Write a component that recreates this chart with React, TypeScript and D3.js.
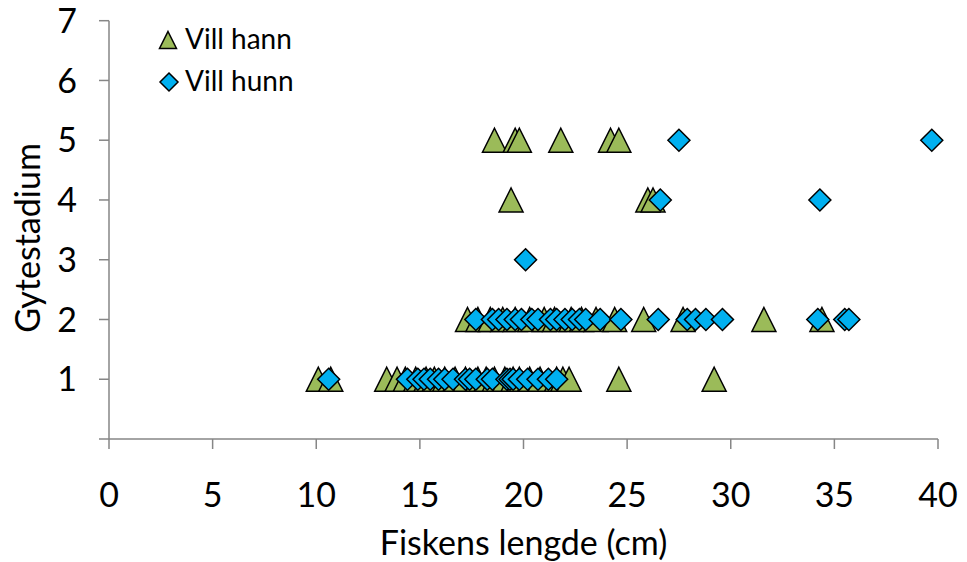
import React from "react";
import * as d3 from "d3";

// Fish length (cm) per spawning stage, wild males ("Vill hann")
const hannStage1 = [10.1, 10.7, 13.4, 13.9, 14.3, 14.8, 15.3, 15.7, 16.2, 16.7, 17.2, 17.8, 18.2, 18.6, 19.1, 19.5, 19.8, 20.3, 20.8, 21.6, 21.9, 22.2, 24.6, 29.2];
const hannStage2 = [17.3, 17.8, 18.4, 19.0, 19.6, 20.3, 21.0, 21.5, 22.3, 22.8, 23.5, 24.4, 25.8, 27.7, 31.6, 34.4];
const hannStage4 = [19.4, 26.0, 26.25];
const hannStage5 = [18.6, 19.6, 19.8, 21.8, 24.2, 24.6];

// Fish length (cm) per spawning stage, wild females ("Vill hunn")
const hunnStage1 = [10.6, 14.4, 14.9, 15.2, 15.5, 15.9, 16.2, 16.6, 17.2, 17.4, 17.7, 18.25, 18.5, 19.2, 19.35, 19.5, 19.8, 20.2, 20.7, 21.2, 21.6];
const hunnStage2 = [17.7, 18.5, 18.8, 19.2, 19.6, 19.9, 20.4, 20.7, 21.3, 21.6, 22.0, 22.35, 22.7, 23.0, 23.7, 24.7, 26.5, 27.9, 28.3, 28.8, 29.6, 34.2, 35.5, 35.7];
const hunnStage3 = [20.1];
const hunnStage4 = [26.6, 34.3];
const hunnStage5 = [27.5, 39.7];

const xTicks = [0, 5, 10, 15, 20, 25, 30, 35, 40];
const yTicks = [0, 1, 2, 3, 4, 5, 6, 7];
const yTickLabels = ["", "1", "2", "3", "4", "5", "6", "7"];

const seriesNames = ["Vill hann", "Vill hunn"];
const xTitle = "Fiskens lengde (cm)";
const yTitle = "Gytestadium";

type Pt = { len: number; stage: number };
const toPoints = (groups: [number[], number][]): Pt[] =>
  groups.flatMap(([lens, stage]) => lens.map((len) => ({ len, stage })));

const hannPoints = toPoints([[hannStage1, 1], [hannStage2, 2], [hannStage4, 4], [hannStage5, 5]]);
const hunnPoints = toPoints([[hunnStage1, 1], [hunnStage2, 2], [hunnStage3, 3], [hunnStage4, 4], [hunnStage5, 5]]);

const W = 967;
const H = 562;
const FONT = "Lato, 'Open Sans', sans-serif";
const AXIS = "#868686";
const GREEN = "#9BBB59";
const BLUE = "#00B0F0";
const FS = 34;

const x = d3.scaleLinear().domain([0, 40]).range([109, 938]);
const y = d3.scaleLinear().domain([0, 7]).range([439, 20.7]);

const tri = (cx: number, cy: number, h: number) =>
  `M${cx},${cy - h}L${cx + h},${cy + h}L${cx - h},${cy + h}Z`;
const dia = (cx: number, cy: number, r: number) =>
  `M${cx},${cy - r}L${cx + r},${cy}L${cx},${cy + r}L${cx - r},${cy}Z`;

export default function App() {
  return (
    <svg width={W} height={H} style={{ position: "absolute", left: 0, top: 0, background: "#fff" }}>
      {/* axes */}
      <line x1={x(0)} x2={x(0)} y1={y(7)} y2={y(0)} stroke={AXIS} strokeWidth={1.5} />
      <line x1={x(0)} x2={x(40)} y1={y(0)} y2={y(0)} stroke={AXIS} strokeWidth={1.5} />
      {yTicks.map((t) => (
        <line key={"yt" + t} x1={x(0) - 10} x2={x(0)} y1={y(t)} y2={y(t)} stroke={AXIS} strokeWidth={1.5} />
      ))}
      {xTicks.map((t) => (
        <line key={"xt" + t} x1={x(t)} x2={x(t)} y1={y(0)} y2={y(0) + 10} stroke={AXIS} strokeWidth={1.5} />
      ))}
      {yTicks.map((t, i) => (
        <text key={"yl" + t} x={77} y={y(t)} dy="0.36em" textAnchor="end" fontFamily={FONT} fontSize={FS} fill="#000">
          {yTickLabels[i]}
        </text>
      ))}
      {xTicks.map((t) => (
        <text key={"xl" + t} x={x(t)} y={507} textAnchor="middle" fontFamily={FONT} fontSize={FS} fill="#000">
          {t}
        </text>
      ))}
      <text x={(x(0) + x(40)) / 2} y={555} textAnchor="middle" fontFamily={FONT} fontSize={FS} fill="#000">
        {xTitle}
      </text>
      <text
        transform={`translate(40,${238}) rotate(-90)`}
        textAnchor="middle"
        fontFamily={FONT}
        fontSize={FS}
        fill="#000"
      >
        {yTitle}
      </text>

      {/* markers: males first, females drawn on top */}
      {hannPoints.map((p, i) => (
        <path key={"h" + i} d={tri(x(p.len), y(p.stage), 12)} fill={GREEN} stroke="#000" strokeWidth={1.5} strokeLinejoin="miter" />
      ))}
      {hunnPoints.map((p, i) => (
        <path key={"f" + i} d={dia(x(p.len), y(p.stage), 11)} fill={BLUE} stroke="#000" strokeWidth={1.5} />
      ))}

      {/* legend */}
      <path d={tri(168, 40, 8.5)} fill={GREEN} stroke="#000" strokeWidth={1.5} />
      <text x={185} y={49} fontFamily={FONT} fontSize={28} fill="#000">{seriesNames[0]}</text>
      <path d={dia(169, 82, 9)} fill={BLUE} stroke="#000" strokeWidth={1.5} />
      <text x={185} y={91} fontFamily={FONT} fontSize={28} fill="#000">{seriesNames[1]}</text>
    </svg>
  );
}
